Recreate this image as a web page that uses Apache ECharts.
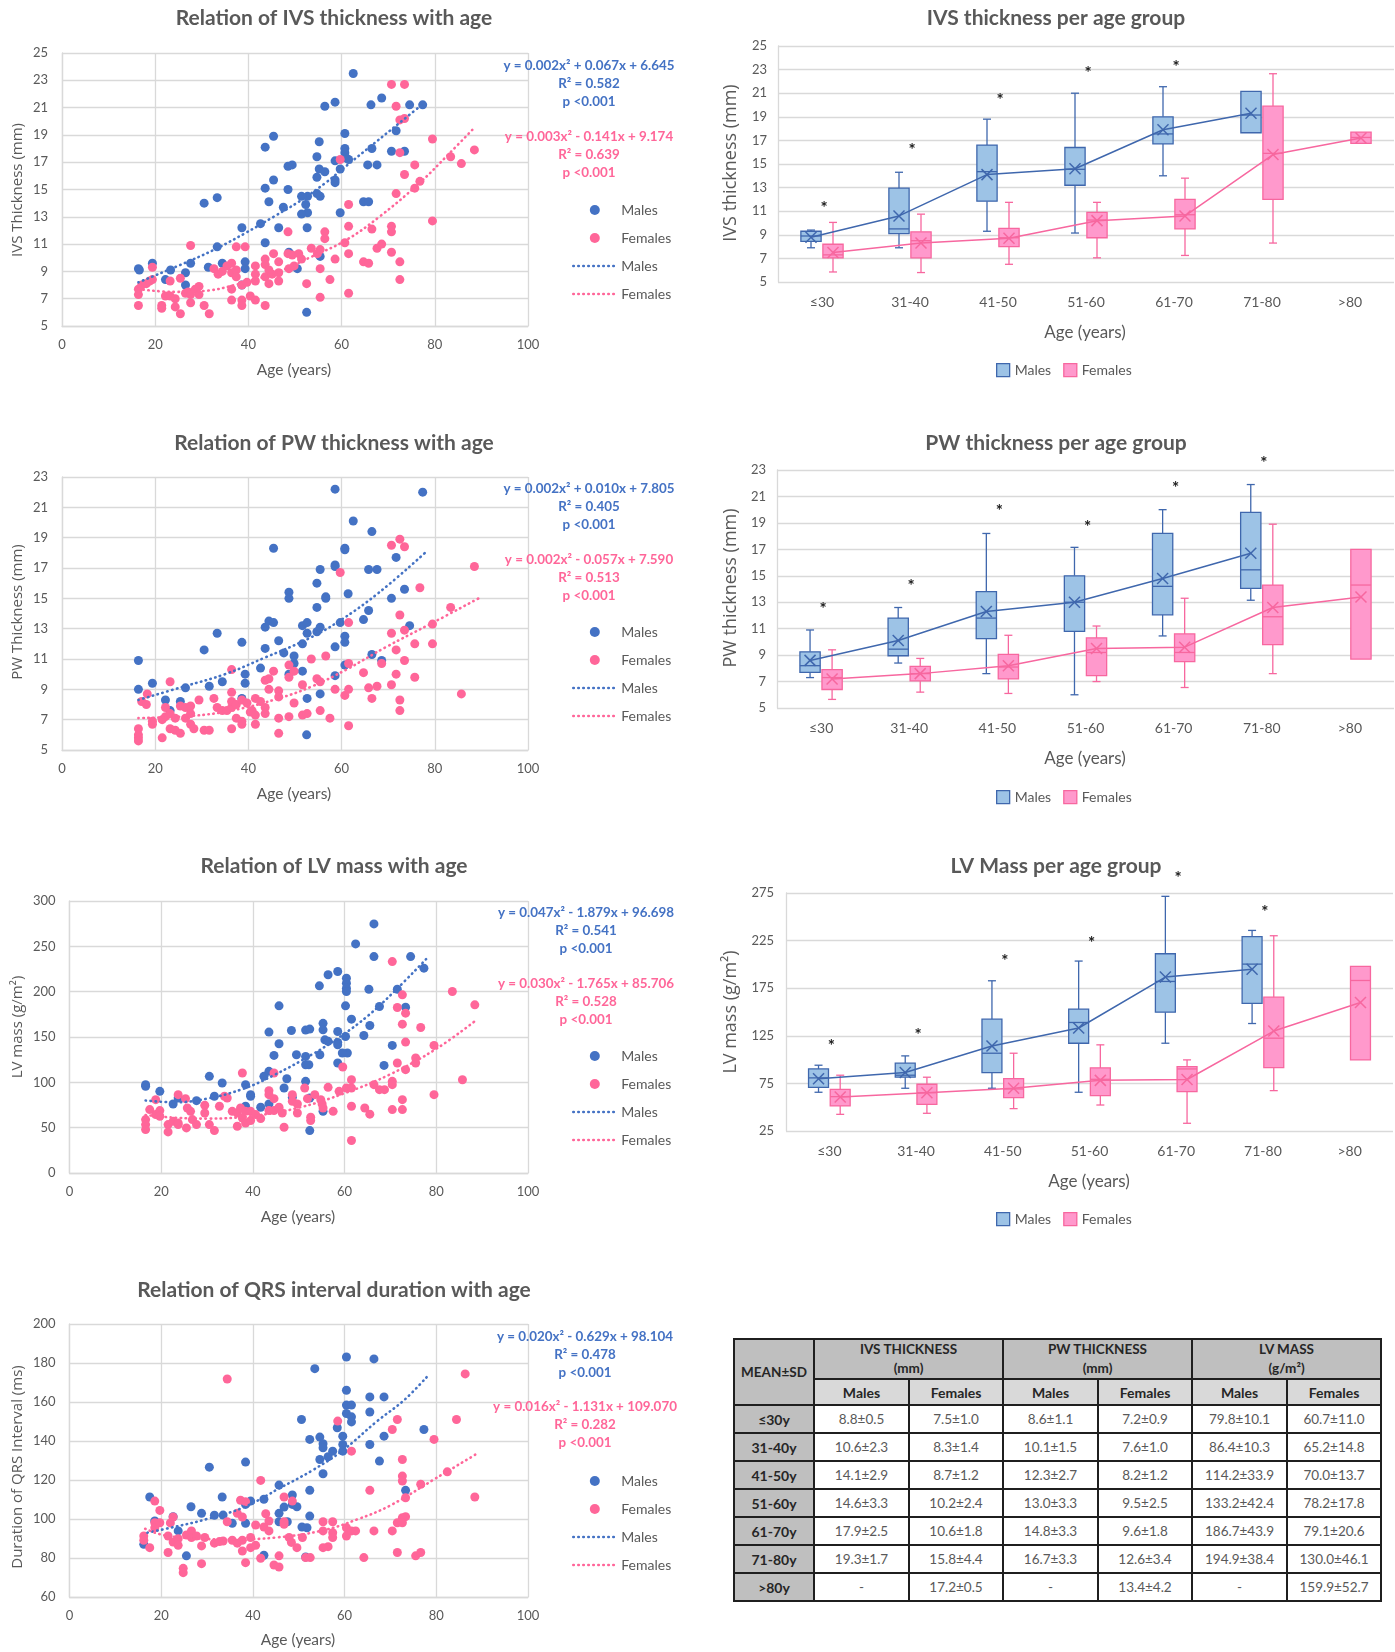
<!DOCTYPE html>
<html><head><meta charset="utf-8">
<script src="https://cdn.jsdelivr.net/npm/echarts@6/dist/echarts.min.js"></script>
<style>
html,body{margin:0;padding:0;background:#fff;}
#page{position:relative;width:1395px;height:1652px;overflow:hidden;background:#fff;}
.panel{position:absolute;}
#tbl{position:absolute;border-collapse:collapse;table-layout:fixed;font-family:Lato,"Open Sans",sans-serif;}
#tbl td,#tbl th{border:2px solid #1f1f1f;padding:0;text-align:center;vertical-align:middle;overflow:hidden;white-space:nowrap;}
#tbl th{font-weight:bold;color:#262626;font-size:13.5px;line-height:19px;}
#tbl th.grp{background:#BFBFBF;}
#tbl th.sub{background:#D9D9D9;font-size:14px;}
#tbl th.corner{background:#BFBFBF;}
#tbl th.rowh{background:#BFBFBF;font-size:14px;}
#tbl td{color:#595959;font-size:13.5px;background:#fff;}
</style></head><body><div id="page"></div>
<script>
// ---------------- DATA ----------------
const categories = ['≤30','31-40','41-50','51-60','61-70','71-80','>80'];

// Table means / SDs (also used as box-plot mean markers)
const ivsMaleMean = [8.8,10.6,14.1,14.6,17.9,19.3,null];
const ivsMaleSD = [0.5,2.3,2.9,3.3,2.5,1.7,null];
const ivsFemaleMean = [7.5,8.3,8.7,10.2,10.6,15.8,17.2];
const ivsFemaleSD = [1.0,1.4,1.2,2.4,1.8,4.4,0.5];
const pwMaleMean = [8.6,10.1,12.3,13.0,14.8,16.7,null];
const pwMaleSD = [1.1,1.5,2.7,3.3,3.3,3.3,null];
const pwFemaleMean = [7.2,7.6,8.2,9.5,9.6,12.6,13.4];
const pwFemaleSD = [0.9,1.0,1.2,2.5,1.8,3.4,4.2];
const lvMaleMean = [79.8,86.4,114.2,133.2,186.7,194.9,null];
const lvMaleSD = [10.1,10.3,33.9,42.4,43.9,38.4,null];
const lvFemaleMean = [60.7,65.2,70.0,78.2,79.1,130.0,159.9];
const lvFemaleSD = [11.0,14.8,13.7,17.8,20.6,46.1,52.7];

// Box plots: [min, Q1, median, Q3, max]
const ivsMaleBox = [[7.9,8.45,8.9,9.3,9.4],[7.9,9.1,9.5,12.95,14.3],[9.3,11.85,14.35,16.6,18.8],[9.15,13.2,14.55,16.4,21.0],[14.0,16.7,17.55,19.0,21.55],[17.65,17.65,19.15,21.15,21.15],null];
const ivsFemaleBox = [[5.85,7.05,7.3,8.2,10.05],[5.8,7.05,8.5,9.25,10.75],[6.5,8.0,8.75,9.55,11.75],[7.05,8.75,10.25,10.9,11.75],[7.25,9.5,10.7,12.0,13.8],[8.3,12.0,15.9,19.9,22.65],[16.75,16.75,17.25,17.7,17.7]];
const pwMaleBox = [[7.3,7.7,8.2,9.25,10.9],[8.4,8.95,9.45,11.8,12.6],[7.6,10.25,11.8,13.8,18.2],[6.0,10.8,13.0,15.0,17.15],[10.45,12.05,14.2,18.2,20.0],[13.15,14.05,15.45,19.8,21.9],null];
const pwFemaleBox = [[5.65,6.4,7.3,7.9,9.4],[6.2,7.05,7.6,8.15,8.75],[6.1,7.2,8.1,9.05,10.5],[7.0,7.45,9.2,10.3,11.2],[6.55,8.5,9.2,10.6,13.3],[7.6,9.8,11.9,14.3,18.9],[8.7,8.7,14.3,17.0,17.0]];
const lvMaleBox = [[65.7,70.9,80.8,90.2,94.1],[69.9,81.5,83.6,96.2,103.9],[69.9,86.4,106.7,142.5,182.8],[65.7,117.2,139.0,153.0,203.5],[117.2,149.8,182.1,211.2,271.5],[137.9,159.0,200.3,229.1,235.7],null];
const lvFemaleBox = [[42.5,51.3,61.1,68.8,83.6],[43.6,53.0,65.3,74.1,81.5],[48.5,60.1,69.2,80.0,106.7],[52.3,62.2,79.3,91.3,115.5],[33.1,66.4,90.2,92.7,99.7],[67.4,91.6,122.5,165.6,230.1],[99.7,99.7,183.1,197.9,197.9]];

// Significance asterisks (value position above each group)
const ivsStars = [11.45,16.4,20.6,22.9,23.45,null,null];
const pwStars = [12.7,14.4,20.1,18.9,21.85,23.75,null];
const lvStars = [117,128,206,225,293.5,257.5,null];

// Scatter data [age, value]
const ivsMales = [[16.4,9.2],[16.6,9.1],[19.4,9.6],[22.2,8.4],[23.3,9.1],[26.5,8.9],[26.5,8.0],[27.6,9.6],[30.5,14.0],[33.3,14.4],[31.4,9.3],[33.3,10.8],[34.4,9.6],[38.6,12.2],[39.3,9.7],[39.3,9.2],[38.6,8.0],[42.6,12.5],[43.6,18.1],[45.4,18.9],[43.6,11.1],[43.6,15.1],[44.4,14.1],[45.4,15.7],[46.5,12.2],[47.5,13.7],[48.5,15.0],[48.5,16.7],[49.4,16.8],[48.7,10.4],[51.4,14.5],[52.7,14.5],[52.3,13.9],[52.7,13.3],[51.4,13.2],[52.6,12.2],[52.5,6.0],[50.5,9.2],[54.7,17.4],[55.2,18.5],[54.7,15.9],[55.2,16.5],[56.4,16.3],[54.7,14.7],[55.4,14.5],[56.4,21.1],[58.6,21.4],[58.6,17.1],[58.6,15.7],[58.6,15.5],[60.7,19.1],[60.7,18.0],[60.7,17.7],[61.0,17.3],[61.5,17.2],[59.7,16.5],[59.7,13.3],[62.5,23.5],[64.7,14.1],[65.8,14.1],[66.3,21.2],[66.5,18.0],[65.6,16.8],[67.6,16.8],[68.6,21.7],[70.7,17.8],[71.7,19.3],[73.5,17.8],[74.6,21.2],[77.4,21.2],[55.4,10.1]];
const ivsFemales = [[16.4,7.7],[16.4,7.3],[16.4,6.5],[17.1,8.0],[18.1,8.1],[18.8,8.3],[19.4,8.4],[19.4,9.3],[21.4,6.5],[21.4,6.3],[22.2,7.2],[23.2,7.2],[24.3,7.0],[23.2,8.3],[24.3,6.4],[25.4,8.5],[25.4,5.9],[26.5,7.4],[27.1,7.5],[27.6,7.3],[28.6,7.7],[29.4,7.9],[29.4,7.3],[27.6,10.9],[27.6,6.7],[30.5,6.5],[31.6,5.9],[32.6,9.2],[33.5,8.8],[34.4,9.0],[35.4,9.4],[36.4,9.6],[36.4,8.9],[37.4,9.1],[37.4,8.6],[36.4,7.7],[36.4,6.9],[37.4,10.8],[39.3,10.8],[38.6,6.9],[38.6,6.5],[38.6,8.0],[39.7,8.2],[40.4,7.2],[41.5,6.9],[41.5,9.4],[41.5,8.8],[41.5,8.3],[43.6,9.9],[43.6,9.5],[44.4,9.1],[43.6,8.6],[45.1,8.8],[44.4,8.1],[46.5,8.3],[46.5,8.9],[43.6,6.5],[45.4,10.3],[46.5,9.7],[48.5,11.9],[48.5,10.3],[49.4,10.2],[48.7,9.2],[49.8,9.4],[51.4,9.9],[50.8,10.3],[52.5,8.1],[53.5,10.7],[54.8,10.3],[55.4,10.6],[55.4,9.2],[55.4,7.1],[56.4,11.9],[56.4,11.4],[57.5,8.4],[58.6,9.9],[59.7,17.2],[60.7,11.1],[61.5,13.9],[61.5,12.3],[61.5,10.3],[61.5,7.4],[64.7,9.7],[65.8,9.6],[66.5,12.1],[67.6,10.7],[68.6,11.0],[70.7,12.3],[70.7,11.9],[70.7,10.4],[72.5,9.7],[72.5,8.4],[70.7,22.7],[73.5,22.7],[71.7,21.1],[72.5,20.1],[73.5,20.2],[72.5,17.7],[73.5,16.1],[75.7,16.8],[76.8,15.6],[75.7,15.1],[71.7,14.7],[79.5,18.7],[79.5,12.7],[83.4,17.4],[85.7,16.9],[88.5,17.9]];
const pwMales = [[16.4,10.9],[16.4,9.0],[19.4,9.4],[22.2,8.3],[23.2,7.6],[25.4,8.2],[26.5,9.1],[30.5,11.6],[33.3,12.7],[31.6,9.2],[34.4,9.5],[38.6,12.1],[39.3,10.0],[39.3,9.4],[38.6,8.4],[42.6,10.4],[43.6,11.7],[43.6,13.1],[44.4,13.5],[45.4,13.4],[45.4,18.3],[46.5,12.2],[47.6,11.4],[48.7,15.4],[48.7,15.0],[48.7,10.0],[49.8,11.2],[49.8,10.7],[51.6,13.2],[52.6,13.4],[52.6,12.7],[51.6,12.0],[51.6,10.2],[52.6,8.4],[52.5,6.0],[54.7,14.4],[55.4,16.9],[54.7,16.0],[56.6,15.1],[56.6,15.0],[54.7,12.8],[55.4,13.1],[55.4,8.7],[58.6,22.2],[58.6,17.2],[58.6,17.1],[59.7,13.4],[60.7,18.3],[60.7,18.2],[60.7,12.5],[60.7,12.1],[58.6,11.8],[60.7,10.6],[58.6,9.9],[61.4,15.3],[62.5,20.1],[64.7,13.6],[65.8,14.2],[66.5,19.4],[65.8,16.9],[67.6,16.9],[66.5,11.3],[68.6,10.9],[70.7,15.0],[71.7,17.7],[73.5,15.6],[74.6,13.2],[77.4,22.0]];
const pwFemales = [[16.4,6.4],[16.4,6.0],[16.4,5.8],[16.4,5.6],[17.1,8.2],[18.1,8.0],[18.3,8.7],[19.4,6.9],[19.4,6.7],[21.5,7.0],[21.5,5.8],[22.2,7.8],[22.2,7.2],[23.2,7.4],[23.2,9.5],[23.2,6.4],[24.3,6.3],[25.4,6.1],[24.3,7.1],[25.4,7.9],[26.5,7.8],[26.5,7.1],[27.6,7.9],[27.6,7.4],[29.4,8.3],[27.6,6.7],[28.3,6.4],[30.5,6.3],[31.6,6.3],[32.6,8.4],[33.3,7.8],[34.4,7.6],[35.4,7.6],[36.4,7.8],[36.4,8.2],[37.4,8.0],[36.4,8.8],[36.4,10.3],[36.4,6.4],[37.4,7.1],[38.6,6.9],[38.6,6.7],[38.6,8.3],[39.7,8.1],[40.4,7.5],[40.8,7.6],[41.5,7.3],[41.5,6.7],[41.5,8.4],[42.6,8.2],[43.6,7.8],[43.6,7.4],[44.4,9.0],[43.6,9.6],[44.4,9.7],[45.4,10.2],[46.5,8.9],[46.5,8.5],[46.5,7.1],[46.5,6.1],[48.7,10.6],[49.8,10.2],[48.7,9.8],[48.7,7.2],[49.8,8.1],[51.6,9.3],[51.6,7.3],[52.6,7.4],[53.5,11.0],[54.7,9.7],[55.4,9.5],[56.6,11.2],[55.4,7.6],[57.5,7.1],[58.6,9.0],[59.7,16.7],[60.7,8.6],[61.5,13.4],[61.5,10.7],[61.5,9.0],[61.5,6.6],[64.7,10.1],[65.8,9.1],[66.5,8.4],[67.6,9.2],[68.6,10.7],[70.7,18.5],[72.5,18.9],[73.5,18.4],[70.7,12.7],[71.7,11.6],[70.7,9.3],[72.5,13.9],[71.7,10.0],[72.5,8.3],[72.5,7.6],[73.5,12.9],[73.5,10.9],[75.7,12.0],[75.7,9.8],[76.8,15.7],[79.5,13.3],[79.5,12.0],[83.4,14.4],[85.7,8.7],[88.5,17.1]];
const lvMales = [[16.6,97.4],[16.6,95.6],[19.7,90.1],[22.6,76.1],[23.7,82.7],[27.7,79.8],[30.5,106.6],[31.6,84.6],[33.3,99.3],[38.4,97.4],[39.5,86.4],[39.5,84.6],[38.4,73.6],[41.7,72.5],[42.4,106.6],[43.5,155.4],[43.5,112.1],[45.7,184.4],[44.6,129.7],[45.7,142.6],[47.4,104.0],[48.4,157.2],[49.5,130.4],[43.5,76.1],[46.8,93.7],[48.6,83.5],[51.5,157.6],[51.5,128.6],[51.5,119.4],[52.2,119.4],[51.5,101.1],[52.4,158.7],[52.4,82.7],[52.4,46.8],[54.5,206.4],[55.3,165.1],[55.3,157.9],[54.6,130.4],[55.7,146.9],[56.4,145.2],[55.3,68.0],[56.4,218.6],[58.5,222.2],[58.5,156.1],[58.5,144.0],[58.5,141.4],[58.5,121.3],[60.4,214.8],[60.4,209.3],[60.4,203.8],[60.4,200.2],[60.2,184.4],[60.2,150.6],[60.6,132.3],[59.5,132.3],[61.5,169.7],[62.4,252.7],[64.2,151.7],[65.3,202.7],[65.5,162.7],[66.4,274.7],[66.4,238.7],[67.6,183.6],[68.6,118.7],[70.4,140.7],[71.5,202.7],[73.3,182.9],[74.4,238.7],[77.3,225.9]];
const lvFemales = [[16.6,58.9],[16.6,53.4],[16.6,47.9],[17.5,69.9],[18.8,64.4],[19.7,68.8],[19.7,62.6],[18.8,80.9],[21.5,53.4],[21.5,45.3],[22.6,57.0],[23.7,53.4],[23.7,86.4],[23.7,55.2],[25.3,82.0],[25.7,71.7],[26.4,68.0],[26.8,58.9],[27.7,53.4],[25.5,49.7],[29.5,74.7],[29.5,66.2],[30.5,53.4],[31.6,46.8],[32.7,73.6],[33.8,84.6],[34.4,82.7],[35.5,68.0],[36.6,66.2],[37.3,71.7],[37.7,110.3],[36.6,51.6],[37.7,60.7],[38.4,55.2],[39.5,57.8],[38.4,68.0],[39.5,68.0],[40.6,64.4],[41.7,60.0],[43.5,90.8],[43.5,86.4],[44.6,82.0],[43.5,68.8],[44.6,68.8],[45.7,72.5],[46.4,66.2],[44.6,110.3],[46.8,50.4],[48.6,86.4],[48.6,79.1],[49.7,76.1],[49.7,66.2],[51.3,93.7],[51.9,82.0],[52.6,57.8],[52.6,61.5],[53.5,86.4],[54.8,80.9],[55.1,76.1],[55.3,71.7],[56.4,94.5],[57.5,68.0],[58.8,90.1],[59.6,116.9],[60.4,93.7],[61.5,93.7],[61.5,102.9],[61.5,73.6],[61.5,35.8],[64.4,71.7],[65.5,64.9],[66.4,97.4],[67.6,91.9],[68.7,91.9],[70.4,101.1],[70.4,97.4],[70.4,69.9],[72.6,69.9],[70.4,233.2],[71.5,121.3],[72.6,80.9],[71.5,182.5],[72.6,196.5],[73.3,176.3],[72.6,164.2],[73.3,144.4],[73.3,114.0],[75.5,126.8],[75.5,121.3],[76.6,160.5],[79.5,140.7],[79.5,86.4],[83.5,200.2],[85.7,102.9],[88.4,185.5]];
const qrsMales = [[16.2,87.0],[17.5,111.3],[18.6,99.0],[22.6,101.2],[23.7,93.9],[25.5,81.1],[26.5,106.3],[28.8,102.9],[30.5,126.6],[31.6,101.9],[33.5,102.0],[33.3,111.3],[35.5,97.8],[38.4,129.2],[38.4,97.8],[38.4,107.5],[39.5,109.2],[42.4,81.4],[42.4,110.1],[45.7,117.4],[45.7,102.9],[45.7,98.6],[46.8,106.1],[48.6,112.3],[48.6,107.5],[49.6,106.3],[47.5,98.6],[50.6,151.0],[52.4,114.7],[52.4,101.5],[51.8,95.5],[50.7,95.9],[51.5,80.5],[53.5,177.1],[52.4,140.8],[54.6,142.0],[55.3,138.6],[55.3,136.5],[54.6,130.5],[55.3,123.2],[56.4,131.9],[57.4,134.8],[58.4,146.8],[59.6,142.5],[59.6,138.2],[59.6,134.8],[60.4,183.1],[60.4,166.0],[60.4,158.4],[61.5,158.4],[60.4,154.1],[61.5,152.4],[61.5,149.8],[65.5,162.6],[65.5,154.9],[65.5,138.2],[66.4,182.1],[68.6,162.6],[68.6,142.5],[67.6,129.7],[73.3,114.7],[77.3,145.9]];
const qrsFemales = [[16.2,91.3],[16.2,89.1],[17.5,85.3],[18.6,109.2],[19.7,104.4],[18.6,98.1],[18.6,95.5],[19.7,98.1],[21.5,91.3],[21.5,82.8],[22.6,88.2],[23.7,89.9],[22.0,98.0],[22.6,101.0],[23.7,86.5],[24.8,74.7],[24.8,72.5],[25.5,91.8],[26.6,93.9],[26.6,90.5],[27.7,91.3],[28.8,86.2],[28.8,77.1],[29.5,90.5],[31.6,87.6],[32.7,88.4],[33.5,88.7],[34.4,171.8],[34.4,98.6],[35.5,89.1],[36.6,87.6],[37.7,89.1],[37.3,109.6],[38.4,108.9],[36.6,102.9],[37.7,101.0],[37.7,83.6],[38.4,77.6],[39.5,85.3],[40.6,86.5],[39.5,90.5],[40.6,96.9],[41.7,119.8],[41.7,79.9],[42.8,102.7],[43.5,99.0],[42.4,95.9],[43.5,93.9],[44.6,76.4],[45.7,75.4],[45.7,81.1],[46.8,111.3],[46.8,98.6],[46.8,97.3],[47.9,90.5],[48.6,109.2],[48.4,88.0],[49.6,85.3],[51.5,80.2],[52.5,80.2],[50.8,90.5],[55.3,98.6],[55.3,93.9],[56.4,85.8],[55.3,85.3],[57.4,98.6],[57.4,93.0],[57.4,90.5],[58.5,150.2],[60.4,95.5],[60.4,91.3],[61.5,93.9],[62.4,93.9],[61.5,134.8],[64.2,80.2],[66.4,93.9],[65.5,114.7],[70.4,93.9],[71.5,82.8],[70.4,145.9],[71.5,151.0],[72.6,130.5],[72.6,122.0],[72.6,119.5],[73.3,110.9],[72.6,100.7],[73.3,101.2],[71.5,98.1],[72.6,98.1],[75.5,81.1],[76.6,82.8],[76.6,117.8],[79.5,140.8],[82.4,124.2],[84.4,151.0],[86.3,174.4],[88.4,111.3]];

// Trend lines
const ivsMaleTrend = [[16.4,8.2],[27.6,9.8],[33.3,10.7],[39.3,11.8],[45.4,13.0],[50.8,14.1],[56.6,15.5],[60.9,16.7],[66.7,18.3],[72.5,19.9],[77.2,21.2]];
const ivsFemaleTrend = [[16.4,7.7],[24,7.5],[31.4,7.6],[37,8.0],[45.8,8.9],[53.7,10.1],[61,11.3],[68.1,13.0],[76.8,15.5],[83,17.6],[88.7,19.6]];
const pwMaleTrend = [[16.4,8.3],[26.3,9.2],[35,10.0],[43.6,11.1],[52.6,12.3],[59.5,13.5],[68.1,15.4],[77.9,18.0]];
const pwFemaleTrend = [[16.4,7.1],[27.8,7.25],[36.4,7.6],[46.5,8.4],[53.7,9.2],[61,10.3],[69.6,11.8],[79,13.3],[89.4,15.0]];
const lvMaleTrend = [[16.6,80],[23,78],[30,82],[38,93],[44.6,108],[53,131],[59.5,152],[65,173],[70.4,198],[78,237]];
const lvFemaleTrend = [[16.6,64],[23,61],[30,60],[40,63],[50,72],[60,88],[70,109],[80,137],[88.3,167]];
const qrsMaleTrend = [[17,93],[23,96],[30,100],[38,106],[46,116],[53,125],[59.5,135],[67,150],[73,161],[78,173]];
const qrsFemaleTrend = [[16.5,95],[20,92],[25,90.5],[35,89.5],[45,90.5],[55,94],[63,100],[70,107],[80,121],[88.5,133]];

// Equation annotations
const ivsEq = [['y = 0.002x² + 0.067x + 6.645','R² = 0.582','p <0.001'],['y = 0.003x² - 0.141x + 9.174','R² = 0.639','p <0.001']];
const pwEq = [['y = 0.002x² + 0.010x + 7.805','R² = 0.405','p <0.001'],['y = 0.002x² - 0.057x + 7.590','R² = 0.513','p <0.001']];
const lvEq = [['y = 0.047x² - 1.879x + 96.698','R² = 0.541','p <0.001'],['y = 0.030x² - 1.765x + 85.706','R² = 0.528','p <0.001']];
const qrsEq = [['y = 0.020x² - 0.629x + 98.104','R² = 0.478','p <0.001'],['y = 0.016x² - 1.131x + 109.070','R² = 0.282','p <0.001']];

// ---------------- STYLE ----------------
const FONT = 'Lato, "Open Sans", "DejaVu Sans", sans-serif';
const LAB = '#595959';
const GRIDC = '#D9D9D9';
const MALE = '#4472C4', FEMALE = '#FF6699';
const MFILL = '#9DC3E6', MSTROKE = '#3F67AD', FFILL = '#FF99CC', FSTROKE = '#F7679F';

const page = document.getElementById('page');
function mkPanel(l, t, w, h) {
  const d = document.createElement('div');
  d.className = 'panel';
  d.style.left = l + 'px'; d.style.top = t + 'px';
  d.style.width = w + 'px'; d.style.height = h + 'px';
  page.appendChild(d);
  return d;
}
function gtext(x, y, text, o) {
  o = o || {};
  return {type: 'text', x: x, y: y, rotation: o.rot || 0, silent: true, z: 10,
    style: {text: text, fill: o.fill || LAB, fontSize: o.size || 14, fontWeight: o.weight || 'normal',
      fontFamily: o.family || FONT, align: 'center', verticalAlign: 'middle'}};
}

function scatterChart(c) {
  const oy = c.oy, ox = 0;
  const el = mkPanel(0, oy, 700, c.h);
  const chart = echarts.init(el, null, {renderer: 'canvas'});
  const rng = c.yMax - c.yMin;
  const line = {show: true, lineStyle: {color: GRIDC, width: 1.3}};
  const g = [
    gtext(334, c.titleY - oy, c.title, {size: 21, weight: 'bold'}),
    gtext(18, c.yTitleY - oy, c.yTitle, {rot: Math.PI / 2, size: 15, family: '"Open Sans", Lato, sans-serif'}),
    gtext(c.xTitleX, c.xTitleY - oy, 'Age (years)', {size: 15.5})
  ];
  c.eq[0].forEach((t, k) => g.push(gtext(c.eqX, c.eqY[0] + 18 * k - oy, t, {fill: MALE, weight: 'bold', size: 13.4})));
  c.eq[1].forEach((t, k) => g.push(gtext(c.eqX, c.eqY[1] + 18 * k - oy, t, {fill: FEMALE, weight: 'bold', size: 13.4})));
  const dotted = (col) => ({color: col, width: 2.6, type: [0.5, 4.5], cap: 'round'});
  chart.setOption({
    animation: false,
    textStyle: {fontFamily: FONT},
    grid: {left: c.gl - ox, top: c.gt - oy, width: c.gr - c.gl, height: c.gb - c.gt, containLabel: false, outerBoundsMode: 'none'},
    xAxis: {type: 'value', min: 0, max: 100, interval: 20, axisLine: line, axisTick: {show: false},
      splitLine: line, axisLabel: {color: LAB, fontSize: 13, margin: 12, fontFamily: FONT}},
    yAxis: [
      {type: 'value', min: c.yMin, max: c.yMax, show: false},
      {type: 'value', min: 0, max: rng, interval: c.yInt, position: 'left', axisLine: line, axisTick: {show: false},
        splitLine: line, axisLabel: {color: LAB, fontSize: 13, margin: 14, fontFamily: FONT, formatter: v => String(v + c.yMin)}}
    ],
    legend: {orient: 'vertical', left: 567, top: c.legY - 12 - oy, itemWidth: 43, itemHeight: 10, itemGap: 14,
      selectedMode: false, textStyle: {color: LAB, fontSize: 14, lineHeight: 14, fontFamily: FONT},
      lineStyle: {width: 2.6},
      data: ['Males', 'Females', {name: 'Males ', itemStyle: {opacity: 0}}, {name: 'Females ', itemStyle: {opacity: 0}}]},
    series: [
      {name: 'Males', type: 'scatter', yAxisIndex: 0, data: c.males, symbol: 'circle', symbolSize: 9, itemStyle: {color: MALE, opacity: 1}},
      {name: 'Females', type: 'scatter', yAxisIndex: 0, data: c.females, symbol: 'circle', symbolSize: 9, itemStyle: {color: FEMALE, opacity: 1}},
      {name: 'Males ', type: 'line', yAxisIndex: 0, data: c.mTrend, smooth: 0.4, symbol: 'none', showSymbol: false, lineStyle: dotted(MALE), itemStyle: {color: MALE}, z: 5},
      {name: 'Females ', type: 'line', yAxisIndex: 0, data: c.fTrend, smooth: 0.4, symbol: 'none', showSymbol: false, lineStyle: dotted(FEMALE), itemStyle: {color: FEMALE}, z: 5}
    ],
    graphic: g
  });
}

const OFF = 0.125, BOXW = 0.23;
function boxRenderer(off, fill, stroke) {
  return function (params, api) {
    const x = api.value(0) + off;
    const pMin = api.coord([x, api.value(1)]);
    const pQ1 = api.coord([x, api.value(2)]);
    const pMed = api.coord([x, api.value(3)]);
    const pQ3 = api.coord([x, api.value(4)]);
    const pMax = api.coord([x, api.value(5)]);
    const pMean = api.coord([x, api.value(6)]);
    const w = api.size([BOXW, 0])[0];
    const cx = pQ1[0], h = w / 2, cap = 4;
    const ls = {stroke: stroke, lineWidth: 1.3, fill: null};
    const ch = [];
    if (pMin[1] - pQ1[1] > 0.5) {
      ch.push({type: 'line', shape: {x1: cx, y1: pQ1[1], x2: cx, y2: pMin[1]}, style: ls});
      ch.push({type: 'line', shape: {x1: cx - cap, y1: pMin[1], x2: cx + cap, y2: pMin[1]}, style: ls});
    }
    if (pQ3[1] - pMax[1] > 0.5) {
      ch.push({type: 'line', shape: {x1: cx, y1: pQ3[1], x2: cx, y2: pMax[1]}, style: ls});
      ch.push({type: 'line', shape: {x1: cx - cap, y1: pMax[1], x2: cx + cap, y2: pMax[1]}, style: ls});
    }
    ch.push({type: 'rect', shape: {x: cx - h, y: pQ3[1], width: w, height: pQ1[1] - pQ3[1]}, style: {fill: fill, stroke: stroke, lineWidth: 1.3}});
    ch.push({type: 'line', shape: {x1: cx - h, y1: pMed[1], x2: cx + h, y2: pMed[1]}, style: ls});
    const m = 5.5;
    ch.push({type: 'line', shape: {x1: cx - m, y1: pMean[1] - m, x2: cx + m, y2: pMean[1] + m}, style: {stroke: stroke, lineWidth: 1.5}});
    ch.push({type: 'line', shape: {x1: cx - m, y1: pMean[1] + m, x2: cx + m, y2: pMean[1] - m}, style: {stroke: stroke, lineWidth: 1.5}});
    return {type: 'group', children: ch};
  };
}
function starRenderer(params, api) {
  const p = api.coord([api.value(0), api.value(1)]);
  return {type: 'text', x: p[0] + 2, y: p[1] + 3, style: {text: '*', fill: '#1a1a1a', fontSize: 17, fontWeight: 'bold', fontFamily: FONT, align: 'center', verticalAlign: 'middle'}};
}

function boxChart(c) {
  const ox = 700, oy = c.oy;
  const el = mkPanel(ox, oy, 695, c.h);
  const chart = echarts.init(el, null, {renderer: 'canvas'});
  const rng = c.yMax - c.yMin;
  const line = {show: true, lineStyle: {color: GRIDC, width: 1.3}};
  const mk = (boxes, means) => boxes.map((b, i) => b ? [i, b[0], b[1], b[2], b[3], b[4], means[i]] : null).filter(Boolean);
  const ml = (means, off) => means.map((m, i) => m == null ? null : [i + off, m]).filter(Boolean);
  const stars = c.stars.map((s, i) => s == null ? null : [i, s]).filter(Boolean);
  const g = [
    gtext(1056 - ox, c.titleY - oy, c.title, {size: 21, weight: 'bold'}),
    gtext(731 - ox, c.yTitleY - oy, c.yTitle, {rot: Math.PI / 2, size: 18, family: '"Open Sans", Lato, sans-serif'}),
    gtext(c.xTitleX - ox, c.xTitleY - oy, 'Age (years)', {size: 17})
  ];
  const dims = ['i', 'min', 'q1', 'med', 'q3', 'max', 'mean'];
  chart.setOption({
    animation: false,
    textStyle: {fontFamily: FONT},
    grid: {left: c.gl - ox, top: c.gt - oy, width: c.gr - c.gl, height: c.gb - c.gt, containLabel: false, outerBoundsMode: 'none'},
    xAxis: [
      {type: 'category', data: categories, position: 'bottom', axisLine: {show: false}, axisTick: {show: false},
        axisLabel: {color: LAB, fontSize: 14, margin: 13, fontFamily: FONT}},
      {type: 'value', min: -0.5, max: categories.length - 0.5, position: 'bottom', show: false}
    ],
    yAxis: [
      {type: 'value', min: c.yMin, max: c.yMax, show: false},
      {type: 'value', min: 0, max: rng, interval: c.yInt, position: 'left', axisLine: line, axisTick: {show: false},
        splitLine: line, axisLabel: {color: LAB, fontSize: 13, margin: c.ylm || 11, fontFamily: FONT, formatter: v => String(v + c.yMin)}}
    ],
    legend: {orient: 'horizontal', left: c.legX - ox, top: c.legY - 12 - oy, itemWidth: 13, itemHeight: 13, itemGap: 12,
      selectedMode: false, textStyle: {color: LAB, fontSize: 14, fontFamily: FONT},
      data: [{name: 'Males', icon: 'rect', itemStyle: {color: MFILL, borderColor: MSTROKE, borderWidth: 1.3}},
             {name: 'Females', icon: 'rect', itemStyle: {color: FFILL, borderColor: FSTROKE, borderWidth: 1.3}}]},
    series: [
      {name: 'Males', type: 'custom', xAxisIndex: 1, yAxisIndex: 0, dimensions: dims, encode: {x: 'i', y: ['min', 'max']},
        data: mk(c.mBox, c.mMean), renderItem: boxRenderer(-OFF, MFILL, MSTROKE), itemStyle: {color: MFILL, borderColor: MSTROKE, borderWidth: 1.3}, z: 2},
      {name: 'Females', type: 'custom', xAxisIndex: 1, yAxisIndex: 0, dimensions: dims, encode: {x: 'i', y: ['min', 'max']},
        data: mk(c.fBox, c.fMean), renderItem: boxRenderer(OFF, FFILL, FSTROKE), itemStyle: {color: FFILL, borderColor: FSTROKE, borderWidth: 1.3}, z: 2},
      {name: 'Males mean', type: 'line', xAxisIndex: 1, yAxisIndex: 0, data: ml(c.mMean, -OFF), symbol: 'none', lineStyle: {color: MSTROKE, width: 1.5}, z: 3},
      {name: 'Females mean', type: 'line', xAxisIndex: 1, yAxisIndex: 0, data: ml(c.fMean, OFF), symbol: 'none', lineStyle: {color: FSTROKE, width: 1.5}, z: 3},
      {name: 'sig', type: 'custom', xAxisIndex: 1, yAxisIndex: 0, data: stars, renderItem: starRenderer, clip: false, z: 4}
    ],
    graphic: g
  });
}

// ---------------- CHARTS ----------------
scatterChart({oy: 0, h: 415, title: 'Relation of IVS thickness with age', titleY: 18, gl: 62, gr: 528, gt: 53, gb: 326,
  yMin: 5, yMax: 25, yInt: 2, yTitle: 'IVS Thickness (mm)', yTitleY: 190, xTitleX: 294, xTitleY: 370,
  eq: ivsEq, eqX: 589, eqY: [66, 137], legY: 210, males: ivsMales, females: ivsFemales, mTrend: ivsMaleTrend, fTrend: ivsFemaleTrend});
scatterChart({oy: 420, h: 415, title: 'Relation of PW thickness with age', titleY: 443, gl: 62, gr: 528, gt: 477, gb: 750,
  yMin: 5, yMax: 23, yInt: 2, yTitle: 'PW Thickness (mm)', yTitleY: 612, xTitleX: 294, xTitleY: 794,
  eq: pwEq, eqX: 589, eqY: [489, 560], legY: 632, males: pwMales, females: pwFemales, mTrend: pwMaleTrend, fTrend: pwFemaleTrend});
scatterChart({oy: 840, h: 415, title: 'Relation of LV mass with age', titleY: 866, gl: 69.5, gr: 528, gt: 901, gb: 1173,
  yMin: 0, yMax: 300, yInt: 50, yTitle: 'LV mass (g/m²)', yTitleY: 1027, xTitleX: 298, xTitleY: 1217,
  eq: lvEq, eqX: 586, eqY: [913, 984], legY: 1056, males: lvMales, females: lvFemales, mTrend: lvMaleTrend, fTrend: lvFemaleTrend});
scatterChart({oy: 1260, h: 392, title: 'Relation of QRS interval duration with age', titleY: 1290, gl: 69.5, gr: 528, gt: 1324, gb: 1597,
  yMin: 60, yMax: 200, yInt: 20, yTitle: 'Duration of QRS Interval (ms)', yTitleY: 1467, xTitleX: 298, xTitleY: 1640,
  eq: qrsEq, eqX: 585, eqY: [1337, 1407], legY: 1481, males: qrsMales, females: qrsFemales, mTrend: qrsMaleTrend, fTrend: qrsFemaleTrend});

boxChart({oy: 0, h: 415, title: 'IVS thickness per age group', titleY: 18, gl: 778, gr: 1394, gt: 46, gb: 282,
  yMin: 5, yMax: 25, yInt: 2, yTitle: 'IVS thickness (mm)', yTitleY: 163, xTitleX: 1085, xTitleY: 333, legX: 991, legY: 370,
  mBox: ivsMaleBox, fBox: ivsFemaleBox, mMean: ivsMaleMean, fMean: ivsFemaleMean, stars: ivsStars});
boxChart({oy: 420, h: 415, title: 'PW thickness per age group', titleY: 443, gl: 777, gr: 1394, gt: 470, gb: 708,
  yMin: 5, yMax: 23, yInt: 2, yTitle: 'PW thickness (mm)', yTitleY: 588, xTitleX: 1085, xTitleY: 759, legX: 991, legY: 797,
  mBox: pwMaleBox, fBox: pwFemaleBox, mMean: pwMaleMean, fMean: pwFemaleMean, stars: pwStars});
boxChart({oy: 840, h: 415, title: 'LV Mass per age group', titleY: 866, gl: 786, gr: 1393, gt: 893, gb: 1131, ylm: 12,
  yMin: 25, yMax: 275, yInt: 50, yTitle: 'LV mass (g/m²)', yTitleY: 1012, xTitleX: 1089, xTitleY: 1182, legX: 991, legY: 1219,
  mBox: lvMaleBox, fBox: lvFemaleBox, mMean: lvMaleMean, fMean: lvFemaleMean, stars: lvStars});

// ---------------- TABLE ----------------
(function buildTable() {
  const fmt = (m, s) => m == null ? '-' : m.toFixed(1) + '±' + s.toFixed(1);
  const cols = [[ivsMaleMean, ivsMaleSD], [ivsFemaleMean, ivsFemaleSD], [pwMaleMean, pwMaleSD], [pwFemaleMean, pwFemaleSD], [lvMaleMean, lvMaleSD], [lvFemaleMean, lvFemaleSD]];
  const widths = [80, 95, 94, 95, 94, 95, 94];
  const t = document.createElement('table');
  t.id = 'tbl';
  t.style.left = '733px'; t.style.top = '1338px'; t.style.width = widths.reduce((a, b) => a + b, 0) + 'px';
  let html = '<colgroup>' + widths.map(w => '<col style="width:' + w + 'px">').join('') + '</colgroup>';
  html += '<tr style="height:40px"><th rowspan="2" class="corner">MEAN±SD</th>' +
    '<th colspan="2" class="grp">IVS THICKNESS<br>(mm)</th><th colspan="2" class="grp">PW THICKNESS<br>(mm)</th><th colspan="2" class="grp">LV MASS<br>(g/m²)</th></tr>';
  html += '<tr style="height:26px">' + ['Males', 'Females', 'Males', 'Females', 'Males', 'Females'].map(s => '<th class="sub">' + s + '</th>').join('') + '</tr>';
  categories.forEach((cat, i) => {
    html += '<tr style="height:28px"><th class="rowh">' + cat + 'y</th>' + cols.map(c => '<td>' + fmt(c[0][i], c[1][i]) + '</td>').join('') + '</tr>';
  });
  t.innerHTML = html;
  page.appendChild(t);
})();
</script></body></html>
